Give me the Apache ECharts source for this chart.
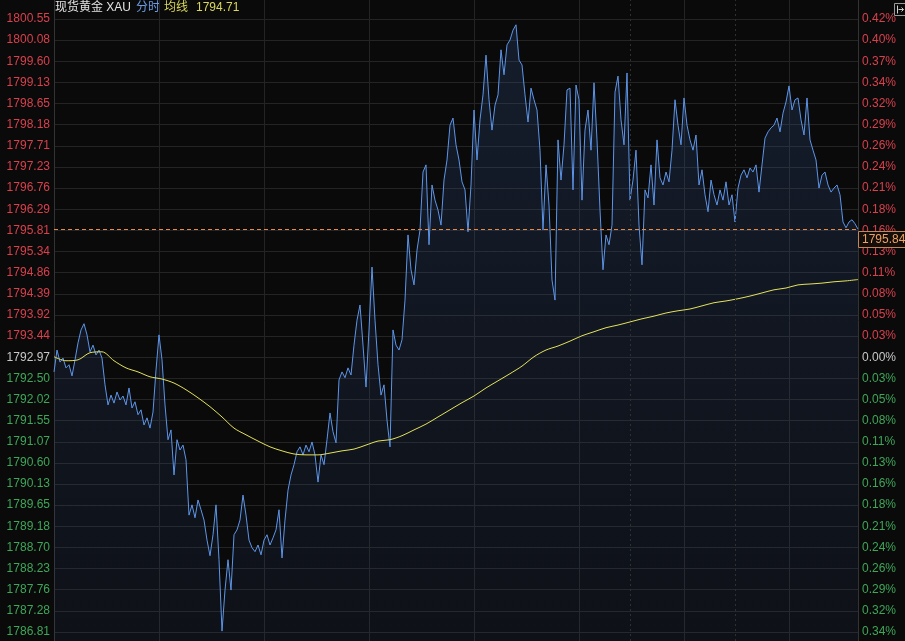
<!DOCTYPE html>
<html>
<head>
<meta charset="utf-8">
<script src="https://cdn.jsdelivr.net/npm/echarts@6/dist/echarts.min.js"></script>
<style>
html,body{margin:0;padding:0;background:#0a0a0b;}
#c{width:905px;height:641px;}
</style>
</head>
<body>
<div id="c"></div>
<script>
// ---- data ----
const priceLabels = ['1800.55','1800.08','1799.60','1799.13','1798.65','1798.18','1797.71','1797.23','1796.76','1796.29',
  '1795.81','1795.34','1794.86','1794.39','1793.92','1793.44','1792.97','1792.50','1792.02','1791.55',
  '1791.07','1790.60','1790.13','1789.65','1789.18','1788.70','1788.23','1787.76','1787.28','1786.81'];
const pctLabels = ['0.42%','0.40%','0.37%','0.34%','0.32%','0.29%','0.26%','0.24%','0.21%','0.18%',
  '0.16%','0.13%','0.11%','0.08%','0.05%','0.03%','0.00%','0.03%','0.05%','0.08%',
  '0.11%','0.13%','0.16%','0.18%','0.21%','0.24%','0.26%','0.29%','0.32%','0.34%'];
const baseLabel = '1792.97';
const titleName = '现货黄金 XAU';
const titleMode = '分时';
const titleAvg = '均线';
const avgLast = '1794.71';
const lastPrice = 1795.84;

const priceValues = [
1792.64,1793.13,1792.86,1792.95,1792.73,1792.80,1792.55,1792.91,1793.29,1793.58,
1793.72,1793.47,1793.09,1793.24,1793.02,1793.13,1792.95,1792.35,1791.90,1792.12,
1791.94,1792.19,1792.01,1792.10,1791.90,1792.28,1791.83,1791.97,1791.68,1791.79,
1791.45,1791.61,1791.38,1791.74,1792.68,1793.47,1792.91,1791.90,1791.12,1791.34,
1790.33,1791.12,1790.89,1791.00,1790.67,1789.43,1789.66,1789.37,1789.77,1789.55,
1789.32,1788.87,1788.52,1788.99,1789.66,1788.43,1786.83,1787.75,1788.43,1787.75,
1788.99,1789.10,1789.32,1789.88,1789.43,1788.87,1788.70,1788.61,1788.76,1788.54,
1788.87,1788.99,1788.76,1788.92,1789.10,1789.55,1788.47,1789.32,1789.99,1790.33,
1790.56,1790.85,1790.96,1790.78,1791.00,1790.85,1791.07,1790.78,1790.17,1790.78,
1790.56,1791.12,1791.72,1791.30,1791.05,1792.46,1792.64,1792.51,1792.73,1792.57,
1793.24,1793.80,1794.14,1793.24,1792.30,1793.58,1794.99,1793.80,1792.80,1792.12,
1792.35,1791.56,1790.96,1793.58,1793.24,1793.13,1793.36,1794.25,1795.71,1794.93,
1794.59,1795.37,1795.82,1797.12,1797.28,1795.49,1796.83,1796.49,1796.27,1795.93,
1796.94,1797.39,1798.17,1798.33,1797.73,1797.39,1796.90,1796.72,1795.78,1796.83,
1798.51,1797.39,1798.29,1798.85,1799.74,1798.74,1798.06,1798.62,1798.85,1799.86,
1799.30,1799.97,1800.08,1800.30,1800.42,1799.63,1799.52,1798.85,1798.24,1799.00,
1798.74,1798.51,1797.61,1795.82,1797.28,1796.38,1794.70,1794.25,1797.84,1796.94,
1797.73,1798.96,1799.00,1796.72,1799.07,1798.74,1796.49,1798.06,1798.51,1797.61,
1799.12,1797.84,1796.27,1794.93,1795.71,1795.49,1795.93,1798.91,1799.27,1798.29,
1797.73,1799.34,1796.49,1796.94,1797.61,1795.93,1795.04,1796.72,1796.54,1797.28,
1796.38,1797.84,1796.99,1796.83,1797.12,1796.90,1797.61,1798.74,1798.17,1797.73,
1798.78,1798.17,1797.84,1797.61,1797.95,1796.83,1797.17,1796.61,1796.23,1796.94,
1796.61,1796.38,1796.72,1796.49,1796.90,1796.38,1796.61,1796.00,1796.76,1797.05,
1797.17,1796.99,1797.21,1797.12,1797.28,1796.67,1797.28,1797.88,1798.02,1798.11,
1798.17,1798.33,1798.02,1798.44,1798.69,1799.05,1798.51,1798.74,1798.78,1798.29,
1797.95,1798.78,1797.84,1797.61,1797.39,1796.76,1797.05,1797.12,1796.83,1796.67,
1796.76,1796.83,1796.61,1796.00,1795.87,1796.00,1796.05,1795.96,1795.84
];

// average line, one reading every avgStep points
const avgStep = 4;
const avgValues = [
1792.98,1792.89,1792.91,1793.07,1793.09,1792.89,1792.73,1792.64,1792.53,1792.48,
1792.39,1792.24,1792.06,1791.86,1791.63,1791.38,1791.23,1791.09,1790.96,1790.87,
1790.80,1790.78,1790.78,1790.82,1790.87,1790.91,1791.00,1791.09,1791.12,1791.21,
1791.34,1791.47,1791.63,1791.79,1791.95,1792.10,1792.28,1792.44,1792.60,1792.77,
1792.98,1793.13,1793.22,1793.33,1793.45,1793.54,1793.63,1793.69,1793.76,1793.83,
1793.89,1793.96,1794.01,1794.05,1794.12,1794.19,1794.23,1794.28,1794.34,1794.41,
1794.48,1794.52,1794.59,1794.61,1794.63,1794.66,1794.68,1794.71
];
const gridEvery = 35;          // vertical grid line every 35 points
const dottedIdx = [192, 227];  // dotted session lines

// ---- build ----
const N = priceValues.length;
const cats = priceValues.map((_, i) => String(i));
const avgData = new Array(N).fill(null);
avgValues.forEach((v, k) => { avgData[k * avgStep] = v; });

const W = 905, H = 641, TOP = 19, BOTTOM = 9, LEFT = 54, RIGHT = 47;
const topV = parseFloat(priceLabels[0]);
const botV = parseFloat(priceLabels[priceLabels.length - 1]);
const vpp = (topV - botV) / (H - TOP - BOTTOM);
const yMax = topV + TOP * vpp;
const yMin = botV - BOTTOM * vpp;

const base = parseFloat(baseLabel);
const RED = '#d8404c', GREEN = '#3ea658', NEUTRAL = '#c8c8c8';
const labelColor = (i) => {
  const v = parseFloat(priceLabels[i]);
  return v > base ? RED : (v < base ? GREEN : NEUTRAL);
};
const FONT = "'Liberation Sans', Arial, 'Noto Sans CJK SC', sans-serif";
const GRIDC = '#242424';

const chart = echarts.init(document.getElementById('c'), null, {renderer: 'canvas'});
chart.setOption({
  backgroundColor: '#0a0a0b',
  animation: false,
  textStyle: {fontFamily: FONT},
  grid: [
    {left: LEFT, right: RIGHT, top: TOP, bottom: BOTTOM},
    {left: LEFT, right: RIGHT, top: 0, bottom: 0}
  ],
  xAxis: [
    {type: 'value', gridIndex: 0, show: false, min: 0, max: 1},
    {type: 'category', gridIndex: 1, data: cats, boundaryGap: false,
      axisLine: {show: false}, axisTick: {show: false}, axisLabel: {show: false},
      splitLine: {show: true, interval: (idx) => idx > 0 && idx % gridEvery === 0,
        lineStyle: {color: GRIDC, width: 1}}}
  ],
  yAxis: [
    {type: 'category', gridIndex: 0, data: priceLabels, inverse: true, boundaryGap: false, position: 'left',
      axisLine: {show: false}, axisTick: {show: false},
      axisLabel: {interval: 0, margin: 4, fontSize: 12, fontFamily: FONT,
        color: (v, i) => labelColor(i)},
      splitLine: {show: true, interval: 0, lineStyle: {color: GRIDC, width: 1}}},
    {type: 'category', gridIndex: 0, data: priceLabels, inverse: true, boundaryGap: false, position: 'right',
      axisLine: {show: false}, axisTick: {show: false},
      axisLabel: {interval: 0, margin: 4, fontSize: 12, fontFamily: FONT,
        formatter: (v, i) => pctLabels[i],
        color: (v, i) => labelColor(i)},
      splitLine: {show: false}},
    {type: 'value', gridIndex: 1, min: yMin, max: yMax, position: 'left',
      axisLine: {show: true, lineStyle: {color: '#333'}}, axisTick: {show: false},
      axisLabel: {show: false}, splitLine: {show: false}},
    {type: 'value', gridIndex: 1, min: yMin, max: yMax, position: 'right',
      axisLine: {show: true, lineStyle: {color: '#333'}}, axisTick: {show: false},
      axisLabel: {show: false}, splitLine: {show: false}}
  ],
  series: [
    {type: 'line', name: 'price', xAxisIndex: 1, yAxisIndex: 2, data: priceValues,
      showSymbol: false, symbol: 'none',
      lineStyle: {color: '#5d95e8', width: 1},
      areaStyle: {origin: 'start', color: new echarts.graphic.LinearGradient(0, 0, 0, 1, [
        {offset: 0, color: 'rgba(55,90,150,0.34)'},
        {offset: 1, color: 'rgba(45,70,120,0.17)'}])}},
    {type: 'line', name: 'avg', xAxisIndex: 1, yAxisIndex: 2, data: avgData,
      connectNulls: true, smooth: 0.3, showSymbol: false, symbol: 'none',
      lineStyle: {color: '#e4e35a', width: 1},
      markLine: {silent: true, symbol: 'none', animation: false,
        lineStyle: {color: '#303030', type: [2, 3], width: 1},
        label: {show: false},
        data: dottedIdx.map(ix => ({xAxis: ix}))}}
  ],
  graphic: [
    {type: 'text', left: 55, top: 2, style: {text: titleName, fill: '#e2e2e2', font: "12px " + FONT}},
    {type: 'text', left: 136, top: 2, style: {text: titleMode, fill: '#6d9de4', font: "12px " + FONT}},
    {type: 'text', left: 164, top: 2, style: {text: titleAvg, fill: '#d9d75c', font: "12px " + FONT}},
    {type: 'text', left: 196, top: 2, style: {text: avgLast, fill: '#d9d75c', font: "12px " + FONT}},
    {type: 'group', left: 892, top: 1, children: [
      {type: 'rect', shape: {x: 0, y: 0, width: 11, height: 12}, style: {fill: 'none', stroke: '#9a9a9a', lineWidth: 1}},
      {type: 'line', shape: {x1: 3, y1: 2, x2: 3, y2: 10}, style: {stroke: '#cfcfcf', lineWidth: 1}},
      {type: 'line', shape: {x1: 4, y1: 6, x2: 9, y2: 6}, style: {stroke: '#cfcfcf', lineWidth: 1}},
      {type: 'polyline', shape: {points: [[7, 4], [9, 6], [7, 8]]}, style: {stroke: '#cfcfcf', fill: 'none', lineWidth: 1}}
    ]}
  ]
});

// last-price dashed line and tag, positioned through the price axis scale
const yLast = Math.round(chart.convertToPixel({yAxisIndex: 2}, lastPrice)) + 0.5;
const xL = chart.convertToPixel({xAxisIndex: 1}, 0);
const xR = chart.convertToPixel({xAxisIndex: 1}, N - 1);
chart.setOption({
  graphic: [
    {type: 'line', id: 'lastLine', z: 50, silent: true,
      shape: {x1: xL, y1: yLast, x2: xR, y2: yLast},
      style: {stroke: '#e48a45', lineWidth: 1, lineDash: [4, 3]}},
    {type: 'rect', id: 'lastBox', z: 50, silent: true,
      shape: {x: xR + 0.5, y: yLast + 2, width: 50, height: 16},
      style: {fill: '#140f0b', stroke: '#c2875a', lineWidth: 1}},
    {type: 'text', id: 'lastText', z: 51, silent: true,
      x: xR + 4, y: yLast + 4,
      style: {text: lastPrice.toFixed(2), fill: '#eea163', font: '12px ' + FONT}}
  ]
});
</script>
</body>
</html>
